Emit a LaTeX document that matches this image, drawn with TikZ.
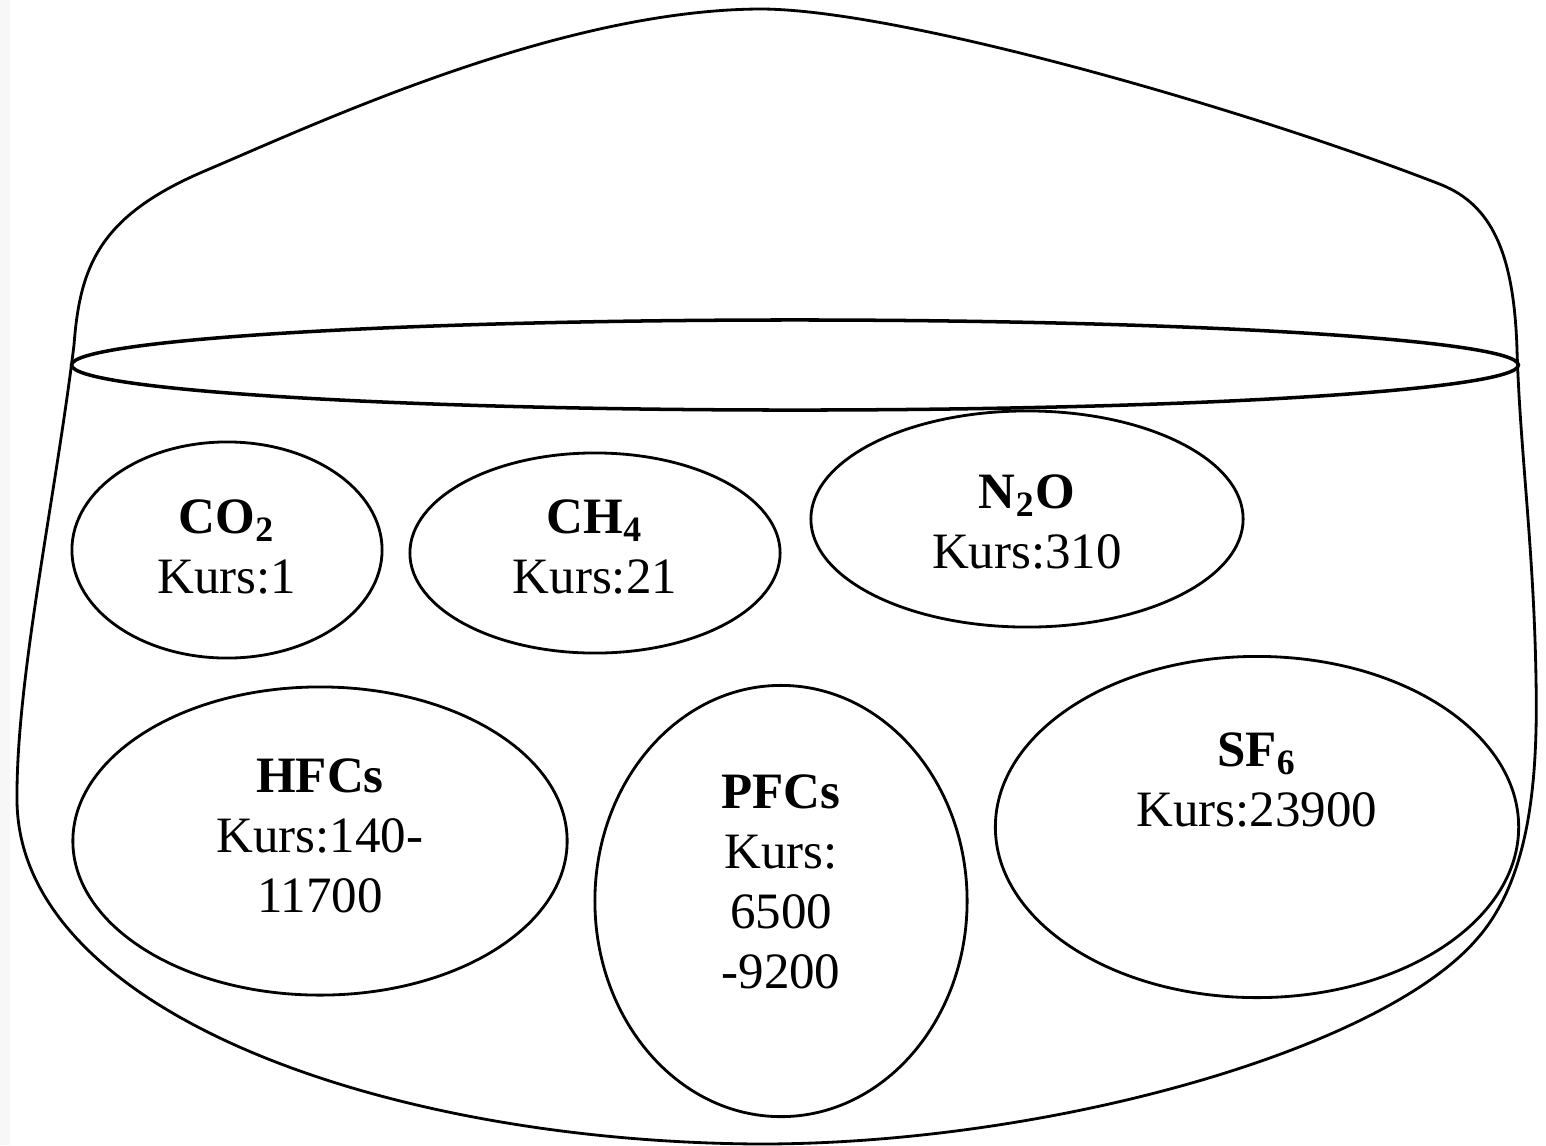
\documentclass[tikz,border=0pt]{standalone}
\usepackage{fontspec}
\setmainfont{Liberation Serif}
\usetikzlibrary{shapes.geometric}
\newcommand*\potline{0.8pt}
\tikzset{
    pot/.style     = {line width=\potline},
    gas/.style     = {draw, ellipse, line width=\potline,
                      inner sep=0pt, outer sep=0pt},
    rim/.style     = {gas, line width=1pt},
    gastext/.style = {align=center, inner sep=0pt,
                      font=\fontsize{14.5}{17.1}\selectfont},
  }
\begin{document}
\begin{tikzpicture}[x=0.01cm, y=-0.01cm]
      \useasboundingbox (0,0) rectangle (1546,1145);
      % light strip on the left edge
      \fill[gray!6] (0,0) rectangle (10,1145);

      % dome of the bag
      \draw[pot] (74,345) .. controls (80,265) and (100,215) .. (207,170)
                          .. controls (320,122) and (560,10) .. (760,9)
                          .. controls (900,9) and (1250,110) .. (1442,185)
                          .. controls (1490,205) and (1514,250) .. (1517,350);

      % body of the bag
      \draw[pot] (74,345) .. controls (55,500) and (16,680) .. (17,800)
                          .. controls (18,1010) and (380,1142) .. (760,1144)
                          .. controls (1050,1144) and (1380,1050) .. (1476,940)
                          .. controls (1530,880) and (1538,780) .. (1536,680)
                          .. controls (1534,550) and (1520,450) .. (1517,350);

      % opening of the bag
      \node[rim, minimum width=14.46cm, minimum height=0.9cm] (mouth) at (795,365) {};

      % row 1
      \node[gas, minimum width=3.10cm, minimum height=2.16cm] (co2) at (227,550) {};
      \node[gas, minimum width=3.70cm, minimum height=2.00cm] (ch4) at (595,553) {};
      \node[gas, minimum width=4.32cm, minimum height=2.16cm] (n2o) at (1027,519) {};
      % row 2
      \node[gas, minimum width=4.94cm, minimum height=3.08cm] (hfcs) at (320,841) {};
      \node[gas, minimum width=3.72cm, minimum height=4.31cm] (pfcs) at (781,901) {};
      \node[gas, minimum width=5.23cm, minimum height=3.41cm] (sf6) at (1257,827) {};

      % names and rates
      \node[gastext] (co2-t) at (227,547) {\textbf{CO\textsubscript{2}}\\Kurs:1};
      \node[gastext] (ch4-t) at (595,547) {\textbf{CH\textsubscript{4}}\\Kurs:21};
      \node[gastext] (n2o-t) at (1027,522) {\textbf{N\textsubscript{2}O}\\Kurs:310};
      \node[gastext] (hfcs-t) at (320,836) {\textbf{HFCs}\\Kurs:140-\\11700};
      \node[gastext] (pfcs-t) at (781,882) {\textbf{PFCs}\\Kurs:\\6500\\-9200};
      \node[gastext] (sf6-t) at (1257,780) {\textbf{SF\textsubscript{6}}\\Kurs:23900};
    \end{tikzpicture}
\end{document}
